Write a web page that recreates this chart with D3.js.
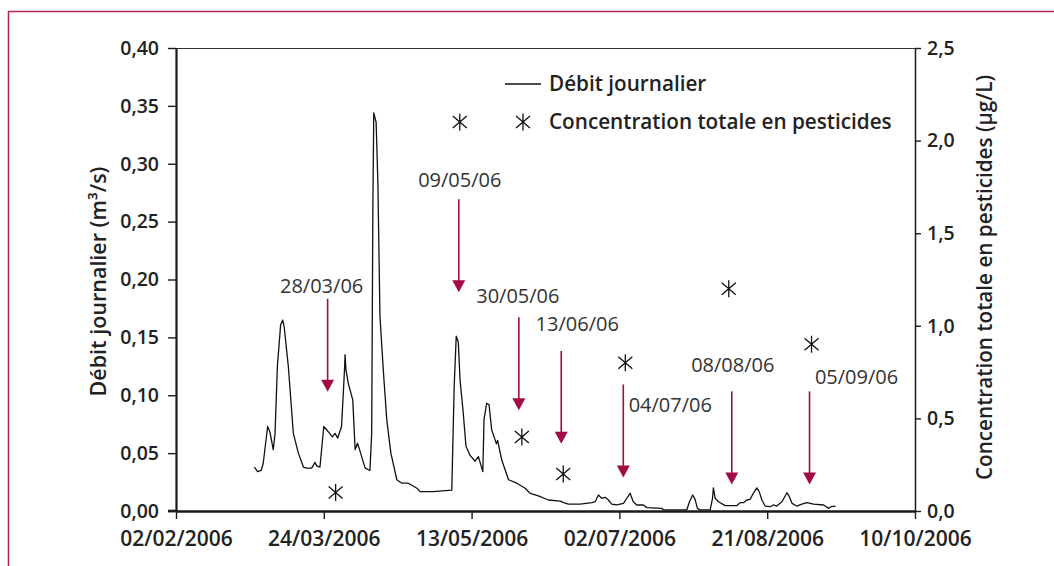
<!DOCTYPE html>
<html>
<head>
<meta charset="utf-8">
<script src="https://cdn.jsdelivr.net/npm/d3@7/dist/d3.min.js"></script>
<style>
body { margin: 0; background: #fff; }
svg text { font-family: "Open Sans", sans-serif; }
</style>
</head>
<body>
<div id="chart"></div>
<script>
// day 0 = 02/02/2006
var startDate = new Date(2006, 1, 2);
var xTickDays = [0, 50, 100, 150, 200, 250];
var flowTicks = [0, 0.05, 0.10, 0.15, 0.20, 0.25, 0.30, 0.35, 0.40];
var concTicks = [0, 0.5, 1.0, 1.5, 2.0, 2.5];

// daily flow (m3/s): [day, value]
var flow = [
  [26.5,0.038],[27.6,0.034],[28.8,0.035],[29.5,0.041],[31,0.073],[31.8,0.068],[32.9,0.053],[33.5,0.067],
  [34.3,0.125],[35.4,0.161],[36.1,0.165],[36.6,0.159],[38,0.125],[39.7,0.067],[41.4,0.050],[43.1,0.038],
  [44.2,0.037],[45.9,0.037],[47,0.042],[47.6,0.039],[48.7,0.038],[50,0.073],[51.5,0.0685],[52.9,0.064],
  [53.8,0.067],[54.7,0.063],[56,0.073],[56.6,0.102],[57.0,0.122],[57.2,0.135],[57.5,0.122],[58.3,0.110],
  [59.8,0.096],[60.6,0.053],[61.4,0.0585],[62.1,0.053],[62.8,0.047],[64,0.037],[65.6,0.035],[66.2,0.067],
  [66.6,0.263],[66.9,0.344],[67.7,0.336],[68.3,0.283],[69,0.168],[70.2,0.119],[71.3,0.079],[72.7,0.050],
  [74.7,0.027],[76.4,0.024],[78.6,0.024],[81.5,0.0196],[82.6,0.0167],[87,0.0167],[93.3,0.018],[94.1,0.107],
  [94.8,0.151],[95.5,0.146],[96.1,0.113],[97.2,0.084],[98.1,0.056],[99.5,0.048],[101.2,0.043],[102.3,0.047],
  [103.8,0.034],[104.2,0.079],[105.1,0.093],[105.9,0.092],[106.8,0.070],[108,0.061],[108.4,0.058],[108.8,0.061],
  [110.2,0.044],[112.5,0.027],[115.3,0.024],[118.1,0.0196],[119.8,0.0153],[122.6,0.013],[126,0.0095],[130,0.0086],
  [131.1,0.0072],[132.8,0.006],[136.7,0.006],[140.7,0.0072],[141.8,0.008],[142.9,0.0138],[144,0.011],[145.2,0.0118],
  [146.3,0.0095],[147.4,0.006],[149.1,0.0052],[151.4,0.0066],[152.5,0.011],[153.6,0.0153],[154.7,0.008],[155.9,0.0052],
  [158.1,0.0052],[159.3,0.0029],[164.4,0.0023],[164.9,0.0009],[172.8,0.0009],[173.7,0.008],[174.8,0.0138],[175.6,0.010],
  [176.4,0.0023],[177.3,0.0009],[180.7,0.0009],[181.5,0.011],[181.8,0.020],[182.4,0.011],[183.5,0.008],[185.8,0.0046],
  [189.7,0.0046],[190.8,0.0072],[192,0.0072],[193.1,0.0095],[194.2,0.010],[195.3,0.0153],[196.5,0.020],[197.3,0.0167],
  [198.2,0.0095],[199.3,0.0043],[201,0.0037],[202.1,0.0052],[203.2,0.0043],[205,0.008],[206.7,0.0158],[207.5,0.0124],
  [208.4,0.0066],[210,0.0043],[211.7,0.006],[213.4,0.0072],[215.7,0.006],[219.1,0.0052],[220.8,0.0023],[221.6,0.0037],
  [223.1,0.0043]
];

// pesticide samples
var sampleLabels = ["28/03/06", "09/05/06", "30/05/06", "13/06/06", "04/07/06", "08/08/06", "05/09/06"];
var sampleDays = [54, 96, 117, 131, 152, 187, 215];
var sampleConc = [0.1, 2.1, 0.4, 0.2, 0.8, 1.2, 0.9];
// flow level the arrow tips point at
var arrowTip = [0.103, 0.189, 0.087, 0.058, 0.029, 0.023, 0.023];

// annotation layout (px): arrow shift, label offset from arrow top
var arrowDx = [-8, -1, -3, -2, -2, 3, -2];
var labelDx = [-6, 1, -1, 16, 47, 1, 47];
var labelDy = [-6, -12, -14, -20, 28, -19, -7];
var arrowLen = 93;

var width = 1054, height = 566;
var margin = { top: 48, right: 139, bottom: 55, left: 176 };
var innerW = width - margin.left - margin.right,
    innerH = height - margin.top - margin.bottom;

function dayToDate(d) { return new Date(startDate.getTime() + d * 864e5); }

var svg = d3.select("#chart").append("svg")
  .attr("width", width)
  .attr("height", height);

// crimson frame
svg.append("rect")
  .attr("x", 8.5).attr("y", 11.5)
  .attr("width", width + 50).attr("height", height + 50)
  .attr("fill", "none")
  .attr("stroke", "#b3245a")
  .attr("stroke-width", 1.5);

var g = svg.append("g")
  .attr("transform", "translate(" + margin.left + "," + margin.top + ")");

var xScale = d3.scaleTime()
  .domain([dayToDate(0), dayToDate(250)])
  .range([0, innerW]);
var yFlow = d3.scaleLinear().domain([0, 0.40]).range([innerH, 0]);
var yConc = d3.scaleLinear().domain([0, 2.5]).range([innerH, 0]);

var fmtComma = function(f) { return function(v) { return d3.format(f)(v).replace(".", ","); }; };

// top border
g.append("line")
  .attr("x1", 0).attr("x2", innerW)
  .attr("y1", 0.5).attr("y2", 0.5)
  .attr("stroke", "#333").attr("stroke-width", 1);

var xAxisGen = d3.axisBottom(xScale)
  .tickValues(xTickDays.map(dayToDate))
  .tickFormat(d3.timeFormat("%d/%m/%Y"))
  .tickSize(8).tickSizeOuter(0).tickPadding(12);
var yLeftGen = d3.axisLeft(yFlow)
  .tickValues(flowTicks).tickFormat(fmtComma(".2f"))
  .tickSize(8).tickSizeOuter(0).tickPadding(9);
var yRightGen = d3.axisRight(yConc)
  .tickValues(concTicks).tickFormat(fmtComma(".1f"))
  .tickSize(6).tickSizeOuter(0).tickPadding(6);

var yLeft = g.append("g").attr("class", "yLeft").call(yLeftGen);
var yRight = g.append("g").attr("class", "yRight")
  .attr("transform", "translate(" + innerW + ",0)").call(yRightGen);
var xAxis = g.append("g").attr("class", "Xaxis")
  .attr("transform", "translate(0," + innerH + ")").call(xAxisGen);

yLeft.select(".domain").attr("stroke", "#1a1a1a").attr("stroke-width", 2.2);
yRight.select(".domain").attr("stroke", "#1a1a1a").attr("stroke-width", 1.5);
xAxis.select(".domain").attr("stroke", "#1a1a1a").attr("stroke-width", 2.6);
// bottom axis line runs a little past the left axis
xAxis.append("line").attr("x1", -8).attr("x2", 0).attr("y1", 0).attr("y2", 0)
  .attr("stroke", "#1a1a1a").attr("stroke-width", 2.6);

g.selectAll(".tick line").attr("stroke", "#1a1a1a").attr("stroke-width", 1.4);
g.selectAll(".tick text")
  .attr("fill", "#222")
  .style("font-size", "19.5px")
  .style("font-weight", "600");
xAxis.selectAll(".tick text").style("font-size", "21px");

// axis titles
g.append("text")
  .attr("transform", "translate(" + (-70) + "," + (innerH / 2 + 2) + ") rotate(-90)")
  .attr("text-anchor", "middle")
  .attr("fill", "#222")
  .style("font-size", "21.5px").style("font-weight", "600")
  .text("Débit journalier (m³/s)");
g.append("text")
  .attr("transform", "translate(" + (innerW + 77) + "," + (innerH / 2 - 2) + ") rotate(-90)")
  .attr("text-anchor", "middle")
  .attr("fill", "#222")
  .style("font-size", "20.7px").style("font-weight", "600")
  .text("Concentration totale en pesticides (µg/L)");

// flow line
var line = d3.line()
  .x(function(d) { return xScale(dayToDate(d[0])); })
  .y(function(d) { return yFlow(d[1]); });
g.append("path")
  .datum(flow)
  .attr("d", line)
  .attr("fill", "none")
  .attr("stroke", "#111")
  .attr("stroke-width", 1.3)
  .attr("stroke-linejoin", "round");

// star marker
var starPath = "M0,-8.5V8.5M-7,-6L7,6M-7,6L7,-6";
g.selectAll(".sample")
  .data(sampleDays)
  .enter().append("path")
  .attr("class", "sample")
  .attr("transform", function(d, i) {
    return "translate(" + xScale(dayToDate(d)) + "," + yConc(sampleConc[i]) + ")";
  })
  .attr("d", starPath)
  .attr("fill", "none")
  .attr("stroke", "#111")
  .attr("stroke-width", 1.3);

// arrows + date labels
var arrowCol = "#a20b45";
sampleDays.forEach(function(d, i) {
  var ax = xScale(dayToDate(d)) + arrowDx[i];
  var tip = yFlow(arrowTip[i]);
  var top = tip - arrowLen;
  g.append("line")
    .attr("x1", ax).attr("x2", ax)
    .attr("y1", top).attr("y2", tip - 8)
    .attr("stroke", arrowCol).attr("stroke-width", 1.6);
  g.append("path")
    .attr("d", "M" + (ax - 6.5) + "," + (tip - 12) + "L" + (ax + 6.5) + "," + (tip - 12) + "L" + ax + "," + tip + "Z")
    .attr("fill", arrowCol);
  g.append("text")
    .attr("x", ax + labelDx[i])
    .attr("y", top + labelDy[i])
    .attr("text-anchor", "middle")
    .attr("fill", "#333")
    .style("font-size", "20px")
    .text(sampleLabels[i]);
});

// legend
var leg = g.append("g").attr("transform", "translate(" + (505 - margin.left) + "," + (84 - margin.top) + ")");
leg.append("line").attr("x1", 0).attr("x2", 36).attr("y1", 0).attr("y2", 0)
  .attr("stroke", "#111").attr("stroke-width", 1.3);
leg.append("text").attr("x", 44).attr("y", 7)
  .attr("fill", "#222").style("font-size", "20.7px").style("font-weight", "600")
  .text("Débit journalier");
leg.append("path").attr("transform", "translate(18,38)")
  .attr("d", starPath).attr("fill", "none").attr("stroke", "#111").attr("stroke-width", 1.3);
leg.append("text").attr("x", 44).attr("y", 45)
  .attr("fill", "#222").style("font-size", "20.7px").style("font-weight", "600")
  .text("Concentration totale en pesticides");
</script>
</body>
</html>
